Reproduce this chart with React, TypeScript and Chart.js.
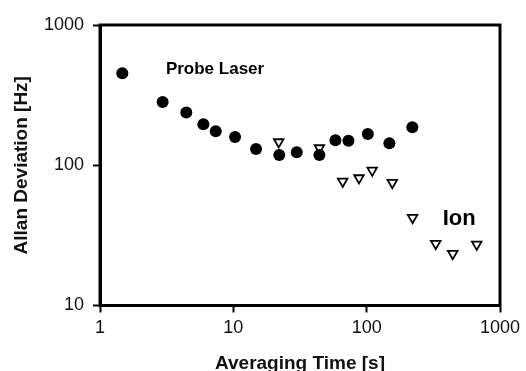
import React, { useEffect, useRef } from "react";
import { Chart, registerables } from "chart.js";

Chart.register(...registerables);

// Averaging time [s] and Allan deviation [Hz]
const PROBE_TIME = [1.47, 2.95, 4.44, 5.96, 7.38, 10.3, 14.8, 22.1, 29.9, 44.2, 58.3, 73, 102, 148, 220];
const PROBE_DEV = [452, 282, 238, 196, 175, 159, 130.6, 118.4, 123.7, 118.4, 151, 149.6, 167, 143.4, 186.5];
const ION_TIME = [21.9, 44.2, 66.1, 87.6, 110, 155.7, 221, 329.5, 442, 669];
const ION_DEV = [146.5, 132.7, 76.7, 81.1, 91.9, 75.1, 42.3, 27.6, 23.4, 27.3];

const X_TICKS = [1, 10, 100, 1000];
const Y_TICKS = [10, 100, 1000];

const LABEL_TEXT = ["Probe Laser", "Ion"];
const LABEL_X = [7.29, 494];
const LABEL_Y = [448, 37.5];

const FONT = "'Liberation Sans', Arial, Helvetica, sans-serif";

export default function App() {
  const ref = useRef<HTMLCanvasElement | null>(null);

  useEffect(() => {
    if (!ref.current) return;
    const boxPlugin = {
      id: "boxAndLabels",
      afterDraw(chart: any) {
        const { ctx, chartArea, scales } = chart;
        ctx.save();
        ctx.strokeStyle = "#000";
        ctx.lineWidth = 3;
        ctx.strokeRect(chartArea.left, chartArea.top, chartArea.right - chartArea.left, chartArea.bottom - chartArea.top);
        ctx.fillStyle = "#000";
        ctx.textAlign = "center";
        ctx.textBaseline = "alphabetic";
        LABEL_TEXT.forEach((t, i) => {
          ctx.font = i === 0 ? `bold 17px ${FONT}` : `bold 22px ${FONT}`;
          ctx.fillText(t, scales.x.getPixelForValue(LABEL_X[i]), scales.y.getPixelForValue(LABEL_Y[i]));
        });
        ctx.restore();
      },
    };

    const chart = new Chart(ref.current, {
      type: "scatter",
      data: {
        datasets: [
          {
            label: "Probe Laser",
            data: PROBE_TIME.map((x, i) => ({ x, y: PROBE_DEV[i] })),
            pointStyle: "circle",
            pointRadius: 6,
            pointBorderWidth: 0,
            backgroundColor: "#000",
            borderColor: "#000",
          },
          {
            label: "Ion",
            data: ION_TIME.map((x, i) => ({ x, y: ION_DEV[i] })),
            pointStyle: "triangle",
            pointRotation: 180,
            pointRadius: 5.5,
            pointBorderWidth: 1.8,
            backgroundColor: "#fff",
            borderColor: "#000",
          },
        ],
      },
      options: {
        responsive: false,
        animation: false,
        events: [],
        layout: { padding: { left: 0, top: 25, right: 26, bottom: 0 } },
        plugins: { legend: { display: false }, tooltip: { enabled: false } },
        scales: {
          x: {
            type: "logarithmic",
            min: 1,
            max: 1000,
            afterBuildTicks: (s: any) => {
              s.ticks = X_TICKS.map((v) => ({ value: v }));
            },
            afterFit: (s: any) => {
              s.height = 65.5;
            },
            ticks: {
              autoSkip: false,
              maxRotation: 0,
              padding: 5,
              color: "#111",
              font: { family: FONT, size: 18 },
              callback: (v: any) => String(v),
            },
            grid: { drawOnChartArea: false, drawTicks: true, tickLength: 7, tickWidth: 2, tickColor: "#000" },
            border: { display: true, width: 3, color: "#000" },
            title: {
              display: true,
              text: "Averaging Time [s]",
              color: "#111",
              font: { family: FONT, size: 19, weight: "bold", lineHeight: 1 },
              padding: { top: 0, bottom: -2 },
            },
          },
          y: {
            type: "logarithmic",
            min: 10,
            max: 1000,
            afterBuildTicks: (s: any) => {
              s.ticks = Y_TICKS.map((v) => ({ value: v }));
            },
            afterFit: (s: any) => {
              s.width = 100;
            },
            ticks: {
              autoSkip: false,
              padding: 9,
              color: "#111",
              font: { family: FONT, size: 18 },
              callback: (v: any) => String(v),
            },
            grid: { drawOnChartArea: false, drawTicks: true, tickLength: 7, tickWidth: 2, tickColor: "#000" },
            border: { display: true, width: 3, color: "#000" },
            title: {
              display: true,
              text: "Allan Deviation [Hz]",
              color: "#111",
              font: { family: FONT, size: 19, weight: "bold", lineHeight: 1 },
              padding: { top: 12, bottom: 0 },
            },
          },
        },
      },
      plugins: [boxPlugin],
    } as any);
    return () => chart.destroy();
  }, []);

  return (
    <div style={{ position: "absolute", left: 0, top: 0, width: 526, height: 371, background: "#fff" }}>
      <canvas ref={ref} width={526} height={371} style={{ display: "block" }} />
    </div>
  );
}
